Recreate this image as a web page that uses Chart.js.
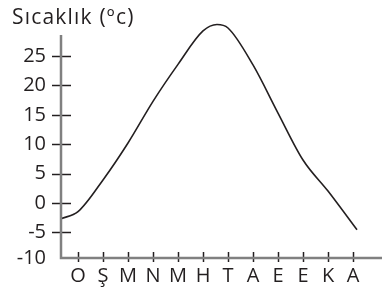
<!DOCTYPE html>
<html>
<head>
<meta charset="utf-8">
<script src="https://cdn.jsdelivr.net/npm/chart.js@4/dist/chart.umd.min.js"></script>
<style>
  html, body { margin: 0; padding: 0; background: #fff; }
  #wrap { width: 382px; height: 293px; position: relative; }
</style>
</head>
<body>
<div id="wrap"><canvas id="chart"></canvas></div>
<script>
// month initials (Ocak ... Aralık)
const months = ['O', 'Ş', 'M', 'N', 'M', 'H', 'T', 'A', 'E', 'E', 'K', 'A'];
const monthPos = [1, 2, 3, 4, 5, 6, 7, 8, 9, 10, 11, 12];
const curveX = [0.32, 1, 2, 3, 4, 5, 6, 6.56, 7, 8, 9, 10, 11, 12.16];
const temps = [-2.7, -1.5, 3.9, 10.2, 17.3, 23.6, 29.3, 30.4, 29.8, 23.5, 15.3, 7.3, 2.0, -4.6];
const yTicks = [-10, -5, 0, 5, 10, 15, 20, 25];
const yTitle = 'Sıcaklık (ºc)';

const ink = '#231f20';

// draws the axis lines, the crossing tick marks and the title
const axesPlugin = {
  id: 'axes',
  afterDraw(chart) {
    const ctx = chart.ctx;
    const area = chart.chartArea;
    const xs = chart.scales.x;
    const ys = chart.scales.y;
    ctx.save();

    // tick marks
    ctx.strokeStyle = ink;
    ctx.lineWidth = 1.5;
    yTicks.forEach(v => {
      if (v <= ys.min) return;
      const py = Math.round(ys.getPixelForValue(v)) + 0.5;
      ctx.beginPath();
      ctx.moveTo(area.left - 9, py);
      ctx.lineTo(area.left + 10, py);
      ctx.stroke();
    });
    monthPos.forEach(m => {
      const px = Math.round(xs.getPixelForValue(m)) + 0.5;
      ctx.beginPath();
      ctx.moveTo(px, area.bottom - 6);
      ctx.lineTo(px, area.bottom + 4);
      ctx.stroke();
    });

    // axis lines
    ctx.strokeStyle = '#808080';
    ctx.lineWidth = 2.5;
    ctx.beginPath();
    ctx.moveTo(area.left, ys.getPixelForValue(28.6));
    ctx.lineTo(area.left, area.bottom);
    ctx.lineTo(area.right, area.bottom);
    ctx.stroke();

    // title
    ctx.fillStyle = ink;
    ctx.font = '21px "Open Sans"';
    ctx.letterSpacing = '1.2px';
    ctx.textBaseline = 'alphabetic';
    ctx.textAlign = 'left';
    ctx.fillText(yTitle, 12, 24);
    ctx.restore();
  }
};

const ctx = document.getElementById('chart').getContext('2d');
new Chart(ctx, {
  type: 'line',
  data: {
    datasets: [{
      data: curveX.map((x, i) => ({ x: x, y: temps[i] })),
      borderColor: ink,
      borderWidth: 1.6,
      pointRadius: 0,
      cubicInterpolationMode: 'monotone',
      fill: false
    }]
  },
  options: {
    responsive: true,
    maintainAspectRatio: false,
    animation: false,
    layout: { padding: { top: 18, right: 0, left: 0, bottom: 0 } },
    plugins: {
      legend: { display: false },
      tooltip: { enabled: false }
    },
    scales: {
      x: {
        type: 'linear',
        min: 0.32,
        max: 13.16,
        afterBuildTicks: scale => { scale.ticks = monthPos.map(v => ({ value: v })); },
        afterFit: scale => {
          scale.height = 35;
          scale.paddingLeft = 0;
          scale.paddingRight = 0;
        },
        grid: { display: false, drawTicks: false },
        border: { display: false },
        ticks: {
          autoSkip: false,
          maxRotation: 0,
          padding: 6,
          color: ink,
          font: { family: 'Open Sans', size: 20 },
          callback: (v, i) => months[i]
        }
      },
      y: {
        min: -9.4,
        max: 31.5,
        afterBuildTicks: scale => {
          scale.ticks = yTicks.map(v => ({ value: Math.max(v, scale.min) }));
        },
        afterFit: scale => {
          scale.width = 61;
          scale.paddingTop = 0;
          scale.paddingBottom = 0;
        },
        grid: { display: false, drawTicks: false },
        border: { display: false },
        ticks: {
          padding: 15,
          color: ink,
          font: { family: 'Open Sans', size: 20 },
          callback: (v, i) => yTicks[i]
        }
      }
    }
  },
  plugins: [axesPlugin]
});
</script>
</body>
</html>
